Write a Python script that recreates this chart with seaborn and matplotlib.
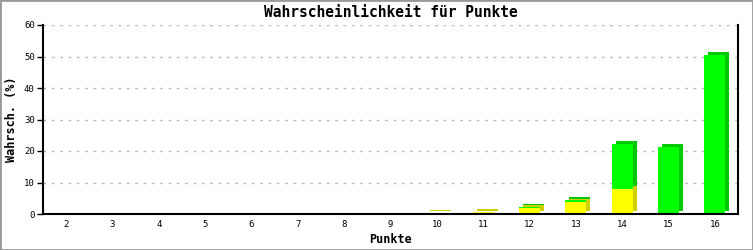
import matplotlib
matplotlib.use("Agg")
import matplotlib.pyplot as plt
import matplotlib.transforms as mtransforms
from matplotlib.patches import Rectangle
import seaborn as sns
import pandas as pd

punkte = [str(v) for v in range(2, 17)]
gelb = [0, 0, 0, 0, 0, 0, 0, 0, 0.2, 0.6, 1.8, 3.7, 8.0, 0, 0]
gruen = [0, 0, 0, 0, 0, 0, 0, 0, 0, 0, 0.4, 0.9, 14.1, 21.2, 50.4]
gesamt = [a + b for a, b in zip(gelb, gruen)]

df = pd.DataFrame({"Punkte": punkte, "gelb": gelb, "gesamt": gesamt})

sns.set_style("white")
plt.rcParams["font.family"] = ["DejaVu Sans Mono", "DejaVu Sans"]
plt.rcParams["text.color"] = "black"
plt.rcParams["axes.labelcolor"] = "black"
plt.rcParams["xtick.color"] = "black"
plt.rcParams["ytick.color"] = "black"

fig = plt.figure(figsize=(7.53, 2.5), dpi=100)
ax = fig.add_axes([43 / 753, 1 - 214 / 250, (738 - 43) / 753, (214 - 25) / 250])

W = 0.46
off = mtransforms.ScaledTranslation(4 / 100, 3 / 100, fig.dpi_scale_trans)

# shadow (depth) bars
n0 = len(ax.patches)
sns.barplot(data=df, x="Punkte", y="gesamt", order=punkte, color="#00C800",
            saturation=1, width=W, ax=ax, linewidth=0, zorder=2)
sns.barplot(data=df, x="Punkte", y="gelb", order=punkte, color="#D0D000",
            saturation=1, width=W, ax=ax, linewidth=0, zorder=2)
for p in ax.patches[n0:]:
    p.set_transform(ax.transData + off)

# front bars
sns.barplot(data=df, x="Punkte", y="gesamt", order=punkte, color="#00FF00",
            saturation=1, width=W, ax=ax, linewidth=0, zorder=3)
sns.barplot(data=df, x="Punkte", y="gelb", order=punkte, color="#FFFF00",
            saturation=1, width=W, ax=ax, linewidth=0, zorder=3)

ax.set_xlim(-0.5, len(punkte) - 0.5)
ax.set_ylim(0, 60)
ax.set_yticks(range(0, 61, 10))
ax.yaxis.grid(True, color="#BBBBBB", linestyle=(0, (2, 4)), linewidth=1)
ax.set_axisbelow(True)
for s in ["left", "bottom", "right"]:
    ax.spines[s].set_visible(True)
    ax.spines[s].set_color("black")
    ax.spines[s].set_linewidth(1.5)
    ax.spines[s].set_zorder(5)
ax.spines["top"].set_visible(False)
ax.tick_params(axis="y", length=4, width=1, color="black", labelsize=6.5, pad=2, left=True)
ax.tick_params(axis="x", length=0, labelsize=6.5, pad=4)

ax.set_title("Wahrscheinlichkeit für Punkte", fontsize=10.5, fontweight="bold", pad=6, color="black")
ax.set_xlabel("Punkte", fontsize=8.5, fontweight="bold", labelpad=3)
ax.set_ylabel("Wahrsch. (%)", fontsize=8.5, fontweight="bold", labelpad=4)

fig.patches.append(Rectangle((0, 0), 1, 1, transform=fig.transFigure,
                             fill=False, edgecolor="#999999", linewidth=2))

fig.savefig("out.png", dpi=100)
